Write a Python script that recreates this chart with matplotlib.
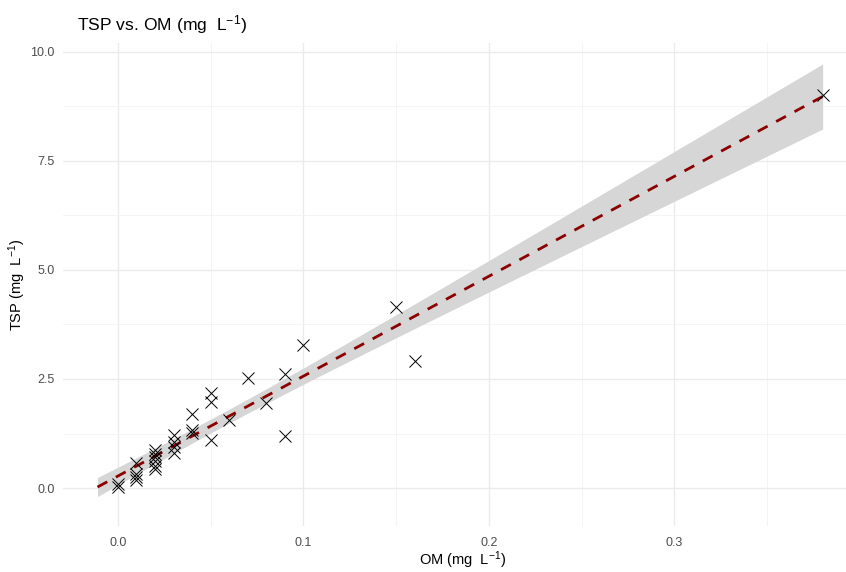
import numpy as np
import matplotlib
matplotlib.use("Agg")
import matplotlib.pyplot as plt
from matplotlib.ticker import MultipleLocator

# OM and TSP concentrations (mg L^-1)
om = [0.00, 0.00,
      0.01, 0.01, 0.01, 0.01,
      0.02, 0.02, 0.02, 0.02, 0.02, 0.02,
      0.03, 0.03, 0.03, 0.03,
      0.04, 0.04, 0.04,
      0.05, 0.05, 0.05,
      0.06, 0.07, 0.08, 0.09, 0.09, 0.10,
      0.15, 0.16, 0.38]
tsp = [0.02, 0.10,
       0.58, 0.32, 0.25, 0.18,
       0.88, 0.78, 0.72, 0.62, 0.50, 0.44,
       1.22, 1.06, 0.94, 0.80,
       1.70, 1.33, 1.26,
       2.18, 1.97, 1.10,
       1.56, 2.52, 1.95, 2.61, 1.19, 3.28,
       4.15, 2.91, 9.00]

x_ticks = [0.0, 0.1, 0.2, 0.3]
y_ticks = [0.0, 2.5, 5.0, 7.5, 10.0]

plt.rcParams["font.family"] = ["Liberation Sans", "DejaVu Sans"]
plt.rcParams["mathtext.fontset"] = "custom"
plt.rcParams["mathtext.rm"] = "Liberation Sans"
plt.rcParams["mathtext.it"] = "Liberation Sans:italic"
plt.rcParams["mathtext.default"] = "regular"

x = np.asarray(om)
y = np.asarray(tsp)

# linear fit with 95% confidence band for the mean
n = len(x)
slope, intercept = np.polyfit(x, y, 1)
resid = y - (intercept + slope * x)
s = np.sqrt(np.sum(resid ** 2) / (n - 2))
xbar = x.mean()
sxx = np.sum((x - xbar) ** 2)
t_crit = 2.045  # t(0.975, df=29)
xf = np.linspace(-0.011, x.max(), 200)
yf = intercept + slope * xf
se = s * np.sqrt(1.0 / n + (xf - xbar) ** 2 / sxx)

W, H = 846, 572
fig = plt.figure(figsize=(W / 100, H / 100), dpi=100)
px_l, px_r, px_t, px_b = 63, 859, 43, 526
ax = fig.add_axes([px_l / W, 1 - px_b / H, (px_r - px_l) / W, (px_b - px_t) / H])

ax.set_xlim(-0.0296, 0.3996)
ax.set_ylim(-0.87, 10.2)

ax.xaxis.set_major_locator(MultipleLocator(0.1))
ax.xaxis.set_minor_locator(MultipleLocator(0.05))
ax.yaxis.set_major_locator(MultipleLocator(2.5))
ax.yaxis.set_minor_locator(MultipleLocator(1.25))
ax.set_xticks(x_ticks)
ax.set_xticklabels([f"{v:.1f}" for v in x_ticks])
ax.set_yticks(y_ticks)
ax.set_yticklabels([f"{v:.1f}" for v in y_ticks])

ax.grid(which="major", color="#EBEBEB", linewidth=1.0)
ax.grid(which="minor", color="#F2F2F2", linewidth=0.6)
ax.set_axisbelow(True)
for sp in ax.spines.values():
    sp.set_visible(False)
ax.tick_params(which="both", length=0, colors="#4D4D4D", labelsize=9)
ax.tick_params(axis="y", pad=6)
ax.tick_params(axis="x", pad=8)

ax.fill_between(xf, yf - t_crit * se, yf + t_crit * se, color="#D6D6D6", linewidth=0, zorder=2)
ax.plot(xf, yf, color="#8B0000", linewidth=2.0, linestyle=(0, (4, 3.5)), zorder=3)
ax.scatter(x, y, marker="x", s=75, color="black", linewidths=0.7, zorder=4)

fig.text(77 / W, 1 - 25 / H, "TSP vs. OM (mg  L$^{-1}$)", fontsize=12.6, color="black",
         ha="left", va="center")
fig.text(463 / W, 1 - 560 / H, "OM (mg  L$^{-1}$)", fontsize=10.5, color="black",
         ha="center", va="center")
fig.text(17 / W, 1 - 285 / H, "TSP (mg  L$^{-1}$)", fontsize=10.5, color="black",
         ha="center", va="center", rotation=90)

fig.savefig("out.png", dpi=100)
